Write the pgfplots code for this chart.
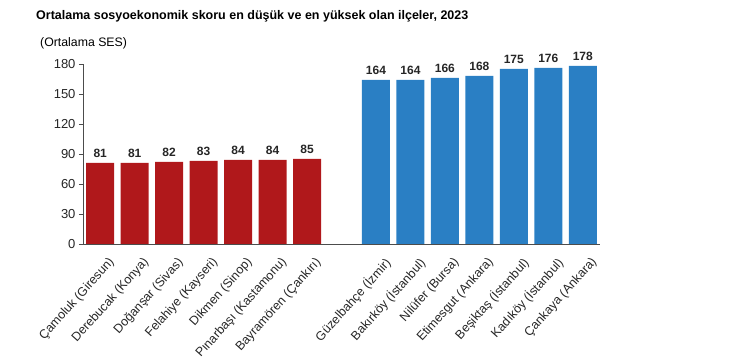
\documentclass[border=0pt]{standalone}
\usepackage{pgfplots}
\pgfplotsset{compat=1.18}
\usepackage{fontspec}
\setmainfont{Liberation Sans}
\definecolor{barred}{RGB}{176,24,27}
\definecolor{barblue}{RGB}{42,127,196}
\begin{document}
\begin{tikzpicture}[x=1pt,y=1pt]
\useasboundingbox (0,0) rectangle (752,361);
\node[anchor=base west,inner sep=0pt,font=\bfseries\fontsize{12.5}{14}\selectfont] at (36,341) {Ortalama sosyoekonomik skoru en düşük ve en yüksek olan ilçeler, 2023};
\node[anchor=base west,inner sep=0pt,font=\fontsize{12.3}{14}\selectfont] at (40,314) {(Ortalama SES)};
\begin{axis}[
  at={(83pt,117pt)}, anchor=south west,
  scale only axis, width=517pt, height=180pt,
  xmin=-0.5, xmax=14.5, ymin=0, ymax=180,
  axis x line=bottom, axis y line=left,
  axis line style={-, black!70, line width=0.8pt},
  ytick={0,30,...,180},
  ytick style={black!70, line width=0.8pt},
  tick align=outside, major tick length=4pt,
  xtick={0,1,2,3,4,5,6,8,9,10,11,12,13,14},
  xticklabels={Çamoluk (Giresun),Derebucak (Konya),Doğanşar (Sivas),Felahiye (Kayseri),Dikmen (Sinop),Pınarbaşı (Kastamonu),Bayramören (Çankırı),Güzelbahçe (İzmir),Bakırköy (İstanbul),Nilüfer (Bursa),Etimesgut (Ankara),Beşiktaş (İstanbul),Kadıköy (İstanbul),Çankaya (Ankara)},
  x tick style={draw=none},
  xticklabel style={rotate=48, anchor=north east, font=\fontsize{12.5}{14}\selectfont, text=black!85, xshift=0pt, yshift=-10pt, inner sep=1pt},
  yticklabel style={font=\fontsize{13}{15}\selectfont, text=black!85},
  /pgf/number format/assume math mode=true,
  ybar, bar width=28pt, bar shift=0pt,
  nodes near coords,
  every node near coord/.append style={font=\bfseries\fontsize{12}{14}\selectfont, text=black!85, yshift=2pt},
  clip=false,
]
\addplot[fill=barred, draw=none] coordinates {(0,81) (1,81) (2,82) (3,83) (4,84) (5,84) (6,85)};
\addplot[fill=barblue, draw=none] coordinates {(8,164) (9,164) (10,166) (11,168) (12,175) (13,176) (14,178)};
\end{axis}
\end{tikzpicture}
\end{document}
